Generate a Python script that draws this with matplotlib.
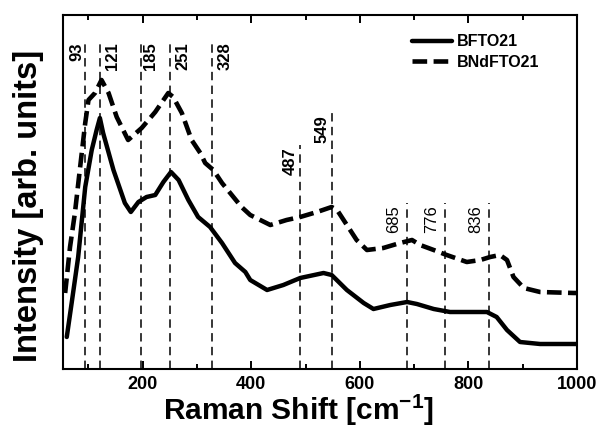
import matplotlib
matplotlib.use("Agg")
import matplotlib.pyplot as plt

plt.rcParams['font.family'] = ['Liberation Sans', 'DejaVu Sans']
plt.rcParams['mathtext.fontset'] = 'custom'
plt.rcParams['mathtext.rm'] = 'Liberation Sans'
plt.rcParams['mathtext.bf'] = 'Liberation Sans:bold'

# ---- data ----
bfto_x = [60, 69, 81, 94, 106, 115, 121, 127, 146, 167, 178, 192, 207, 223, 238, 252,
          266, 284, 302, 324, 346, 370, 389, 398, 429, 459, 490, 533, 548, 576, 607,
          625, 656, 687, 705, 736, 766, 800, 834, 852, 871, 895, 932, 1000]
bfto_y = [32, 66, 112, 182, 219, 239, 251, 236, 199, 166, 157, 167, 172, 174, 187, 197,
          189, 169, 152, 142, 126, 106, 97, 89, 79, 84, 91, 96, 94, 79, 66,
          60, 64, 67, 65, 60, 57, 57, 57, 52, 39, 27, 25, 25]

bndfto_x = [57, 66, 75, 84, 94, 100, 112, 124, 137, 152, 173, 198, 223, 247, 256, 272,
            290, 306, 315, 330, 346, 367, 382, 398, 435, 465, 490, 521, 548, 558, 576,
            594, 613, 643, 674, 696, 711, 736, 760, 797, 822, 840, 858, 871, 883, 902,
            932, 994, 1000]
bndfto_y = [76, 122, 156, 199, 246, 269, 276, 289, 276, 252, 229, 241, 257, 276, 272, 256,
            229, 216, 206, 199, 186, 172, 162, 154, 144, 149, 152, 157, 162, 159, 144,
            129, 119, 121, 126, 129, 124, 119, 114, 107, 109, 112, 114, 109, 92, 81,
            77, 76, 76]

peak_pos = [93, 121, 197, 251, 328, 490, 549, 686, 757, 838]
peak_labels = ['93', '121', '185', '251', '328', '487', '549', '685', '776', '836']
peak_top = [329, 329, 329, 329, 329, 224, 256, 166, 166, 166]

series_names = ['BFTO21', 'BNdFTO21']

# ---- styling for peak labels (offsets in points, weights) ----
label_dx = [-5.8, 9.4, 6.5, 8.6, 9.4, -7.2, -7.2, -9.4, -10.0, -9.4]
label_w = ['bold'] * 7 + ['normal'] * 3

fig = plt.figure(figsize=(6.02, 4.34), dpi=100)
ax = fig.add_axes([62.7 / 602, 1 - 369 / 434, (577 - 62.7) / 602, (369 - 15) / 434])

ax.plot(bfto_x, bfto_y, color='black', lw=3.2, solid_capstyle='round',
        solid_joinstyle='round', label=series_names[0])
ax.plot(bndfto_x, bndfto_y, color='black', lw=3.3, linestyle=(0, (3.2, 1.4)),
        label=series_names[1])

for xp, lab, top, dx, w in zip(peak_pos, peak_labels, peak_top, label_dx, label_w):
    ax.vlines(xp, 0, top, colors='black', lw=1.1, linestyles=(0, (5.5, 3.5)))
    ax.annotate(lab, xy=(xp, top), xytext=(dx, -1.5), textcoords='offset points',
                rotation=90, ha='center', va='top', fontsize=12, fontweight=w)

ax.set_xlim(52.5, 1000)
ax.set_ylim(0, 354)
ax.set_yticks([])
ax.set_xticks([200, 400, 600, 800, 1000])
ax.set_xticks([100, 300, 500, 700, 900], minor=True)
ax.tick_params(axis='x', which='both', direction='in', top=True, width=1.4,
               labelsize=13, pad=5)
ax.tick_params(axis='x', which='major', length=6)
ax.tick_params(axis='x', which='minor', length=3.5)
for lab in ax.get_xticklabels():
    lab.set_fontweight('bold')
for sp in ax.spines.values():
    sp.set_linewidth(1.5)

ax.set_xlabel(r'Raman Shift [cm$\mathbf{^{-1}}$]', fontsize=21.5, fontweight='bold')
ax.xaxis.set_label_coords(0.4575, -0.068)
ax.set_ylabel('Intensity [arb. units]', fontsize=23.5, fontweight='bold')
ax.yaxis.set_label_coords(-0.036, 0.46)

leg = ax.legend(loc='upper left', bbox_to_anchor=(0.679, 0.945), frameon=False,
                fontsize=11.5, handlelength=2.5, handletextpad=0.3,
                labelspacing=0.35, borderpad=0, borderaxespad=0)
for t in leg.get_texts():
    t.set_fontweight('bold')

fig.savefig('out.png', dpi=100)
